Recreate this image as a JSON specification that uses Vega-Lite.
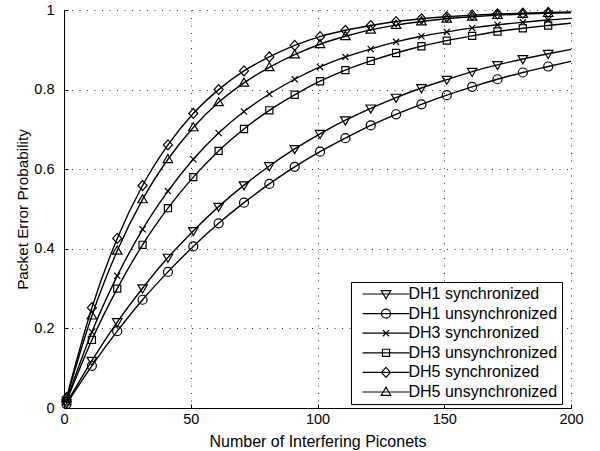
{
  "$schema": "https://vega.github.io/schema/vega-lite/v6.json",
  "width": 507,
  "height": 398,
  "autosize": {"type": "none"},
  "padding": {"left": 64, "top": 10, "right": 29, "bottom": 43},
  "background": "white",
  "config": {
    "view": {"stroke": null},
    "font": "Liberation Sans",
    "axis": {
      "grid": true,
      "gridDash": [1, 6.5],
      "gridColor": "#333333",
      "gridWidth": 1,
      "domainColor": "black",
      "domainWidth": 1,
      "tickColor": "black",
      "tickWidth": 1,
      "tickSize": -4,
      "labelFont": "Liberation Sans",
      "labelFontSize": 14.5,
      "labelColor": "black",
      "labelFlush": false,
      "labelOverlap": false,
      "titleFont": "Liberation Sans",
      "titleFontWeight": "normal",
      "titleColor": "black"
    }
  },
  "datasets": {
    "pe": [
      {"x":1,"s":"DH1 synchronized","p":0.012},{"x":11,"s":"DH1 synchronized","p":0.119},{"x":21,"s":"DH1 synchronized","p":0.216},{"x":31,"s":"DH1 synchronized","p":0.301},{"x":41,"s":"DH1 synchronized","p":0.378},{"x":51,"s":"DH1 synchronized","p":0.445},{"x":61,"s":"DH1 synchronized","p":0.506},{"x":71,"s":"DH1 synchronized","p":0.560},{"x":81,"s":"DH1 synchronized","p":0.608},{"x":91,"s":"DH1 synchronized","p":0.651},{"x":101,"s":"DH1 synchronized","p":0.689},{"x":111,"s":"DH1 synchronized","p":0.723},{"x":121,"s":"DH1 synchronized","p":0.753},{"x":131,"s":"DH1 synchronized","p":0.780},{"x":141,"s":"DH1 synchronized","p":0.804},{"x":151,"s":"DH1 synchronized","p":0.825},{"x":161,"s":"DH1 synchronized","p":0.845},{"x":171,"s":"DH1 synchronized","p":0.862},{"x":181,"s":"DH1 synchronized","p":0.877},{"x":191,"s":"DH1 synchronized","p":0.890},{"x":200,"s":"DH1 synchronized","p":0.901},
      {"x":1,"s":"DH1 unsynchronized","p":0.010},{"x":11,"s":"DH1 unsynchronized","p":0.106},{"x":21,"s":"DH1 unsynchronized","p":0.193},{"x":31,"s":"DH1 unsynchronized","p":0.272},{"x":41,"s":"DH1 unsynchronized","p":0.342},{"x":51,"s":"DH1 unsynchronized","p":0.406},{"x":61,"s":"DH1 unsynchronized","p":0.464},{"x":71,"s":"DH1 unsynchronized","p":0.516},{"x":81,"s":"DH1 unsynchronized","p":0.563},{"x":91,"s":"DH1 unsynchronized","p":0.606},{"x":101,"s":"DH1 unsynchronized","p":0.644},{"x":111,"s":"DH1 unsynchronized","p":0.678},{"x":121,"s":"DH1 unsynchronized","p":0.710},{"x":131,"s":"DH1 unsynchronized","p":0.738},{"x":141,"s":"DH1 unsynchronized","p":0.763},{"x":151,"s":"DH1 unsynchronized","p":0.786},{"x":161,"s":"DH1 unsynchronized","p":0.807},{"x":171,"s":"DH1 unsynchronized","p":0.826},{"x":181,"s":"DH1 unsynchronized","p":0.843},{"x":191,"s":"DH1 unsynchronized","p":0.858},{"x":200,"s":"DH1 unsynchronized","p":0.871},
      {"x":1,"s":"DH3 synchronized","p":0.019},{"x":11,"s":"DH3 synchronized","p":0.191},{"x":21,"s":"DH3 synchronized","p":0.332},{"x":31,"s":"DH3 synchronized","p":0.449},{"x":41,"s":"DH3 synchronized","p":0.545},{"x":51,"s":"DH3 synchronized","p":0.625},{"x":61,"s":"DH3 synchronized","p":0.691},{"x":71,"s":"DH3 synchronized","p":0.745},{"x":81,"s":"DH3 synchronized","p":0.789},{"x":91,"s":"DH3 synchronized","p":0.826},{"x":101,"s":"DH3 synchronized","p":0.857},{"x":111,"s":"DH3 synchronized","p":0.882},{"x":121,"s":"DH3 synchronized","p":0.902},{"x":131,"s":"DH3 synchronized","p":0.920},{"x":141,"s":"DH3 synchronized","p":0.934},{"x":151,"s":"DH3 synchronized","p":0.945},{"x":161,"s":"DH3 synchronized","p":0.955},{"x":171,"s":"DH3 synchronized","p":0.963},{"x":181,"s":"DH3 synchronized","p":0.969},{"x":191,"s":"DH3 synchronized","p":0.975},{"x":200,"s":"DH3 synchronized","p":0.979},
      {"x":1,"s":"DH3 unsynchronized","p":0.017},{"x":11,"s":"DH3 unsynchronized","p":0.171},{"x":21,"s":"DH3 unsynchronized","p":0.300},{"x":31,"s":"DH3 unsynchronized","p":0.410},{"x":41,"s":"DH3 unsynchronized","p":0.502},{"x":51,"s":"DH3 unsynchronized","p":0.580},{"x":61,"s":"DH3 unsynchronized","p":0.646},{"x":71,"s":"DH3 unsynchronized","p":0.701},{"x":81,"s":"DH3 unsynchronized","p":0.748},{"x":91,"s":"DH3 unsynchronized","p":0.787},{"x":101,"s":"DH3 unsynchronized","p":0.821},{"x":111,"s":"DH3 unsynchronized","p":0.849},{"x":121,"s":"DH3 unsynchronized","p":0.872},{"x":131,"s":"DH3 unsynchronized","p":0.892},{"x":141,"s":"DH3 unsynchronized","p":0.909},{"x":151,"s":"DH3 unsynchronized","p":0.923},{"x":161,"s":"DH3 unsynchronized","p":0.935},{"x":171,"s":"DH3 unsynchronized","p":0.946},{"x":181,"s":"DH3 unsynchronized","p":0.954},{"x":191,"s":"DH3 unsynchronized","p":0.961},{"x":200,"s":"DH3 unsynchronized","p":0.967},
      {"x":1,"s":"DH5 synchronized","p":0.026},{"x":11,"s":"DH5 synchronized","p":0.252},{"x":21,"s":"DH5 synchronized","p":0.426},{"x":31,"s":"DH5 synchronized","p":0.559},{"x":41,"s":"DH5 synchronized","p":0.661},{"x":51,"s":"DH5 synchronized","p":0.740},{"x":61,"s":"DH5 synchronized","p":0.800},{"x":71,"s":"DH5 synchronized","p":0.847},{"x":81,"s":"DH5 synchronized","p":0.882},{"x":91,"s":"DH5 synchronized","p":0.911},{"x":101,"s":"DH5 synchronized","p":0.933},{"x":111,"s":"DH5 synchronized","p":0.949},{"x":121,"s":"DH5 synchronized","p":0.961},{"x":131,"s":"DH5 synchronized","p":0.971},{"x":141,"s":"DH5 synchronized","p":0.978},{"x":151,"s":"DH5 synchronized","p":0.983},{"x":161,"s":"DH5 synchronized","p":0.987},{"x":171,"s":"DH5 synchronized","p":0.990},{"x":181,"s":"DH5 synchronized","p":0.992},{"x":191,"s":"DH5 synchronized","p":0.994},{"x":200,"s":"DH5 synchronized","p":0.995},
      {"x":1,"s":"DH5 unsynchronized","p":0.024},{"x":11,"s":"DH5 unsynchronized","p":0.232},{"x":21,"s":"DH5 unsynchronized","p":0.395},{"x":31,"s":"DH5 unsynchronized","p":0.524},{"x":41,"s":"DH5 unsynchronized","p":0.625},{"x":51,"s":"DH5 unsynchronized","p":0.705},{"x":61,"s":"DH5 unsynchronized","p":0.768},{"x":71,"s":"DH5 unsynchronized","p":0.817},{"x":81,"s":"DH5 unsynchronized","p":0.856},{"x":91,"s":"DH5 unsynchronized","p":0.888},{"x":101,"s":"DH5 unsynchronized","p":0.914},{"x":111,"s":"DH5 unsynchronized","p":0.934},{"x":121,"s":"DH5 unsynchronized","p":0.950},{"x":131,"s":"DH5 unsynchronized","p":0.962},{"x":141,"s":"DH5 unsynchronized","p":0.971},{"x":151,"s":"DH5 unsynchronized","p":0.978},{"x":161,"s":"DH5 unsynchronized","p":0.983},{"x":171,"s":"DH5 unsynchronized","p":0.987},{"x":181,"s":"DH5 unsynchronized","p":0.990},{"x":191,"s":"DH5 unsynchronized","p":0.992},{"x":200,"s":"DH5 unsynchronized","p":0.993}
    ]
  },
  "data": {"name": "pe"},
  "encoding": {
    "x": {
      "field": "x", "type": "quantitative",
      "scale": {"domain": [0, 200], "nice": false, "zero": false},
      "axis": {
        "values": [0, 50, 100, 150, 200],
        "title": "Number of Interfering Piconets",
        "titleFontSize": 16,
        "labelPadding": 8,
        "titlePadding": 8
      }
    },
    "y": {
      "field": "p", "type": "quantitative",
      "scale": {"domain": [0, 1], "nice": false},
      "axis": {
        "values": [0, 0.2, 0.4, 0.6, 0.8, 1],
        "format": "~g",
        "title": "Packet Error Probability",
        "titleFontSize": 15.3,
        "labelPadding": 14,
        "titlePadding": 3.5
      }
    }
  },
  "resolve": {"scale": {"shape": "independent"}, "legend": {"shape": "independent"}},
  "layer": [
    {
      "mark": {"type": "line", "color": "black", "strokeWidth": 1.4, "interpolate": "monotone"},
      "encoding": {"detail": {"field": "s", "type": "nominal"}}
    },
    {
      "transform": [{"filter": "datum.x <= 191"}],
      "mark": {"type": "point", "filled": false, "color": "black", "strokeWidth": 1.2, "size": 90, "opacity": 1},
      "encoding": {
        "shape": {
          "field": "s", "type": "nominal",
          "scale": {
            "domain": ["DH1 synchronized", "DH1 unsynchronized", "DH3 synchronized", "DH3 unsynchronized", "DH5 synchronized", "DH5 unsynchronized"],
            "range": [
              "M-1,-0.7L1,-0.7L0,1Z",
              "M0.95,0A0.95,0.95,0,1,1,-0.95,0A0.95,0.95,0,1,1,0.95,0Z",
              "M-0.65,-0.65L0.65,0.65M-0.65,0.65L0.65,-0.65",
              "M-0.75,-0.75H0.75V0.75H-0.75Z",
              "M0,-1.05L0.95,0L0,1.05L-0.95,0Z",
              "M-1,0.7L1,0.7L0,-1Z"
            ]
          },
          "legend": null
        }
      }
    },
    {
      "transform": [{"filter": "datum.x < 0"}],
      "mark": {"type": "point", "filled": false, "color": "black", "strokeWidth": 1.2, "size": 90, "opacity": 1},
      "encoding": {
        "shape": {
          "field": "s", "type": "nominal",
          "scale": {
            "domain": ["DH1 synchronized", "DH1 unsynchronized", "DH3 synchronized", "DH3 unsynchronized", "DH5 synchronized", "DH5 unsynchronized"],
            "range": [
              "M-4.95,0H4.95M-1,-0.7L1,-0.7L0,1Z",
              "M-4.95,0H4.95M0.95,0A0.95,0.95,0,1,1,-0.95,0A0.95,0.95,0,1,1,0.95,0Z",
              "M-4.95,0H4.95M-0.65,-0.65L0.65,0.65M-0.65,0.65L0.65,-0.65",
              "M-4.95,0H4.95M-0.75,-0.75H0.75V0.75H-0.75Z",
              "M-4.95,0H4.95M0,-1.05L0.95,0L0,1.05L-0.95,0Z",
              "M-4.95,0H4.95M-1,0.7L1,0.7L0,-1Z"
            ]
          },
          "legend": {
            "orient": "none",
            "legendX": 287,
            "legendY": 272,
            "title": null,
            "strokeColor": "black",
            "fillColor": "white",
            "padding": 4,
            "labelFont": "Liberation Sans",
            "labelFontSize": 16,
            "labelColor": "black",
            "labelLimit": 300,
            "symbolSize": 90,
            "symbolStrokeColor": "black",
            "symbolFillColor": "transparent",
            "symbolStrokeWidth": 1.2,
            "symbolOpacity": 1,
            "symbolOffset": 23,
            "labelOffset": 14.5,
            "rowPadding": 3.6
          }
        }
      }
    }
  ]
}
